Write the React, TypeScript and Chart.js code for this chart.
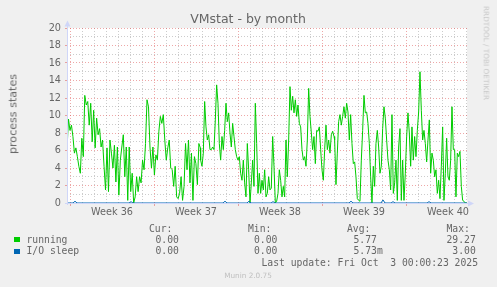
import React, { useEffect, useRef } from 'react';
import { Chart, registerables } from 'chart.js';

Chart.register(...registerables);

// ---------------- data ----------------
const chartTitle = 'VMstat - by month';
const yAxisTitle = 'process states';
const weekLabels = ['Week 36', 'Week 37', 'Week 38', 'Week 39', 'Week 40'];

// running processes (three consecutive stretches of the month)
const runningPart1 = [
  6.1, 9.6, 8.3, 8.9, 7.6, 5.7, 6.3, 5.3, 4.2, 3.4,
  7.4, 5.3, 12.3, 11.2, 11.6, 8.9, 11.4, 7.0, 10.6, 6.3,
  9.7, 7.8, 8.5, 6.4, 7.2, 4.2, 1.5, 6.3, 1.3, 7.2,
  5.7, 4.0, 6.6, 2.4, 6.4, 0.9, 4.9, 6.4, 7.8, 3.0,
  6.4, 0.3, 6.4, 1.3, 3.4, 0.0, 0.7, 3.0, 1.3, 3.0,
  2.3, 4.9, 3.8, 6.8, 11.8, 11.0, 6.4, 4.0, 6.4, 3.2,
  5.5, 4.9, 8.2, 9.9, 9.1, 10.1, 7.2, 4.9, 6.3, 7.2,
  4.0, 3.8, 1.9, 4.2, 0.7, 0.5, 1.1, 3.0, 0.3, 1.9,
  6.8, 3.8, 7.2, 2.3, 5.7, 0.3, 5.3, 4.5, 2.1, 6.8,
  6.3,
];
const runningPart2 = [
  4.9, 4.2, 5.7, 11.6, 8.7, 7.2, 7.8, 6.1, 6.1, 6.4,
  6.1, 9.5, 13.5, 11.4, 6.8, 4.9, 7.6, 6.1, 8.3, 11.4,
  9.3, 10.3, 8.0, 6.4, 9.1, 7.6, 6.1, 5.3, 4.9, 5.3,
  3.4, 2.6, 4.9, 2.3, 0.7, 6.8, 3.8, 0.0, 2.3, 4.9,
  1.9, 11.4, 6.8, 1.1, 3.4, 1.1, 2.6, 1.5, 3.8, 0.7,
  1.1, 3.0, 1.5, 1.7, 7.6, 4.2, 0.0, 0.2, 1.1, 3.8,
  2.6, 0.7, 1.9, 0.7, 7.2, 3.0, 7.2, 13.3, 10.6, 12.2,
  10.3, 11.8, 9.9, 11.2, 9.1, 8.7, 6.1, 4.9, 5.3, 4.2,
  7.2, 13.1, 9.9, 8.0, 6.1, 7.6, 4.5, 8.3, 8.2, 8.7,
  6.1, 3.8, 2.6, 6.1, 8.9, 6.1, 7.2, 5.7, 7.8, 8.2,
  7.6,
];
const runningPart3 = [
  7.2, 2.1, 5.7, 9.3, 10.1, 8.9, 9.9, 11.0, 9.7, 11.4,
  10.4, 7.2, 10.1, 6.8, 4.5, 4.7, 3.0, 0.5, 0.3, 0.2,
  4.9, 8.3, 12.3, 10.3, 10.4, 9.1, 6.8, 3.0, 0.0, 4.2,
  1.9, 6.8, 8.3, 6.4, 3.4, 4.2, 8.5, 11.0, 9.7, 7.2,
  4.9, 3.8, 1.5, 10.1, 1.1, 2.3, 4.9, 0.3, 6.4, 8.5,
  0.3, 4.9, 0.3, 3.4, 7.6, 10.3, 8.0, 4.2, 8.7, 4.9,
  7.6, 5.3, 8.3, 10.4, 15.0, 10.6, 7.2, 8.3, 6.8, 4.7,
  7.2, 9.5, 3.4, 5.7, 4.9, 3.0, 3.8, 1.1, 2.6, 0.5,
  4.2, 8.7, 0.3, 3.4, 7.4, 3.0, 2.6, 4.9, 11.0, 6.1,
  6.1, 0.7, 5.7, 5.3, 5.9, 1.9, 0.3, 0.2, 0.0, 0.0,
];
// hours (from the left edge of the 800-hour window) spanned by each stretch
const runningPartHours = [
  [0, 266.7],
  [267.3, 534],
  [535.3, 799.3],
];

// I/O sleep, one value every 4 hours
const ioSleepStepHours = 4;
const ioSleepValues = [
  0, 0, 0, 0, 0.2, 0, 0, 0, 0, 0, 0, 0, 0, 0, 0, 0, 0, 0, 0, 0,
  0, 0, 0, 0, 0, 0, 0, 0, 0, 0, 0, 0, 0.15, 0, 0, 0, 0, 0, 0, 0,
  0, 0, 0, 0, 0, 0, 0, 0, 0, 0, 0, 0, 0, 0, 0, 0, 0, 0, 0, 0,
  0, 0, 0, 0, 0, 0, 0, 0, 0, 0, 0, 0, 0, 0, 0, 0, 0, 0, 0, 0.2,
  0, 0, 0, 0, 0, 0, 0, 0, 0, 0, 0, 0.2, 0, 0, 0, 0, 0, 0, 0, 0,
  0, 0, 0, 0.15, 0, 0, 0, 0, 0, 0, 0, 0, 0, 0, 0, 0, 0, 0, 0, 0,
  0, 0, 0, 0, 0, 0, 0, 0, 0, 0, 0, 0, 0, 0, 0, 0, 0, 0, 0, 0,
  0, 0, 0.2, 0, 0, 0, 0, 0, 0, 0, 0, 0, 0, 0, 0, 0, 0, 0, 0.35, 0,
  0, 0, 0, 0.15, 0, 0, 0, 0, 0, 0, 0, 0, 0, 0, 0, 0, 0, 0, 0, 0,
  0, 0.15, 0, 0, 0, 0, 0, 0, 0, 0, 0, 0, 0, 0, 0, 0, 0, 0, 0, 0,
  0,
];

const seriesNames = ['running', 'I/O sleep'];
const seriesColors = ['#00CC00', '#0066B3'];
const curValues = ['0.00', '0.00'];
const minValues = ['0.00', '0.00'];
const avgValues = ['5.77', '5.73m'];
const maxValues = ['29.27', '3.00'];
const lastUpdate = 'Last update: Fri Oct  3 00:00:23 2025';
const footer = 'Munin 2.0.75';
const watermark = 'RRDTOOL / TOBI OETIKER';

// time axis: 800 hours shown, weeks begin 6 h after the left edge
const WINDOW_HOURS = 800;
const FIRST_WEEK_HOUR = 6;
const DAY = 24;
const WEEK = 168;
const Y_MIN = 0;
const Y_MAX = 20;

// ---------------- style ----------------
const W = 497;
const H = 287;
const FONT_COLOR = '#666666';
const AXIS_COLOR = '#CFD6F8';
const GRID_MINOR = 'rgba(143,143,143,0.45)';
const GRID_MAJOR = 'rgba(222,79,79,0.5)';
const SANS = "'DejaVu Sans', 'Noto Sans', sans-serif";
const MONO = "'DejaVu Sans Mono', 'Liberation Mono', monospace";
const LEGEND_SIZE = 9.72;
const CHAR_W = LEGEND_SIZE * 0.602;

const runningPoints = [runningPart1, runningPart2, runningPart3].flatMap((part, p) => {
  const [from, to] = runningPartHours[p];
  return part.map((v, i) => ({ x: from + (i * (to - from)) / (part.length - 1), y: v }));
});
const ioPoints = ioSleepValues.map((v, i) => ({ x: i * ioSleepStepHours, y: v }));

const xTickHours: number[] = [];
for (let h = FIRST_WEEK_HOUR; h <= WINDOW_HOURS; h += DAY / 2) xTickHours.push(h);

const xKind = (v: number) => {
  const d = v - FIRST_WEEK_HOUR;
  if (d % WEEK === 0) return 'major';
  if (d % DAY === 0) return 'minor';
  return 'none';
};

const plotDecor = {
  id: 'plotDecor',
  beforeDraw(chart: any) {
    const { ctx, chartArea } = chart;
    ctx.save();
    ctx.fillStyle = '#FFFFFF';
    ctx.fillRect(chartArea.left, chartArea.top, chartArea.right - chartArea.left, chartArea.bottom - chartArea.top);
    ctx.restore();
  },
  afterDatasetsDraw(chart: any) {
    const { ctx, chartArea } = chart;
    const { left, right, top, bottom } = chartArea;
    ctx.save();
    ctx.strokeStyle = AXIS_COLOR;
    ctx.fillStyle = AXIS_COLOR;
    ctx.lineWidth = 1;
    ctx.beginPath();
    ctx.moveTo(left - 2, bottom + 0.5);
    ctx.lineTo(right + 2, bottom + 0.5);
    ctx.moveTo(left + 0.5, bottom + 2);
    ctx.lineTo(left + 0.5, top - 3);
    ctx.stroke();
    ctx.beginPath();
    ctx.moveTo(right + 7, bottom + 0.5);
    ctx.lineTo(right + 1, bottom - 2.5);
    ctx.lineTo(right + 1, bottom + 3.5);
    ctx.closePath();
    ctx.fill();
    ctx.beginPath();
    ctx.moveTo(left + 0.5, top - 7.5);
    ctx.lineTo(left - 2.5, top - 1.5);
    ctx.lineTo(left + 3.5, top - 1.5);
    ctx.closePath();
    ctx.fill();
    ctx.restore();
  },
};

type LabelProps = {
  x: number;
  base: number;
  size: number;
  mono?: boolean;
  color?: string;
  center?: boolean;
  children: React.ReactNode;
};

function Label({ x, base, size, mono, color = FONT_COLOR, center, children }: LabelProps) {
  const style: React.CSSProperties = {
    position: 'absolute',
    left: x,
    top: base - 0.846 * size,
    fontSize: size,
    lineHeight: `${size}px`,
    fontFamily: mono ? MONO : SANS,
    color,
    whiteSpace: 'pre',
  };
  if (center) style.transform = 'translateX(-50%)';
  return <div style={style}>{children}</div>;
}

export default function App() {
  const ref = useRef<HTMLCanvasElement>(null);

  useEffect(() => {
    if (!ref.current) return;
    const tickFont = { family: SANS, size: 9.7 };
    const chart = new Chart(ref.current, {
      type: 'line',
      data: {
        datasets: [
          {
            label: seriesNames[1],
            data: ioPoints,
            borderColor: seriesColors[1],
            borderWidth: 1,
            pointRadius: 0,
            tension: 0,
            order: 0,
          },
          {
            label: seriesNames[0],
            data: runningPoints,
            borderColor: seriesColors[0],
            borderWidth: 1,
            pointRadius: 0,
            tension: 0,
            order: 1,
          },
        ],
      },
      options: {
        animation: false,
        responsive: false,
        devicePixelRatio: 1,
        parsing: false,
        normalized: true,
        events: [],
        layout: { padding: { left: 0, top: 28, right: 30, bottom: 60 } },
        plugins: { legend: { display: false }, tooltip: { enabled: false }, title: { display: false } },
        scales: {
          x: {
            type: 'linear',
            min: 0,
            max: WINDOW_HOURS,
            afterFit: (s: any) => {
              s.height = 24;
            },
            afterBuildTicks: (s: any) => {
              s.ticks = xTickHours.map((v) => ({ value: v }));
            },
            ticks: {
              autoSkip: false,
              maxRotation: 0,
              minRotation: 0,
              padding: 1,
              color: FONT_COLOR,
              font: tickFont,
              callback: (v: any) => {
                const d = Number(v) - FIRST_WEEK_HOUR;
                if (d % WEEK === WEEK / 2) return weekLabels[Math.floor(d / WEEK)] ?? '';
                return '';
              },
            },
            grid: {
              lineWidth: 1,
              drawTicks: true,
              tickLength: 3,
              color: (c: any) => {
                const k = c.tick ? xKind(c.tick.value) : 'none';
                return k === 'major' ? GRID_MAJOR : k === 'minor' ? GRID_MINOR : 'rgba(0,0,0,0)';
              },
              tickColor: (c: any) => {
                const k = c.tick ? xKind(c.tick.value) : 'none';
                return k === 'major' ? GRID_MAJOR : 'rgba(0,0,0,0)';
              },
            },
            border: { display: false, dash: [1, 2] },
          },
          y: {
            type: 'linear',
            min: Y_MIN,
            max: Y_MAX,
            afterFit: (s: any) => {
              s.width = 67;
            },
            ticks: {
              stepSize: 1,
              autoSkip: false,
              padding: 4,
              color: FONT_COLOR,
              font: tickFont,
              callback: (v: any) => (Number(v) % 2 === 0 ? String(v) : ''),
            },
            grid: {
              lineWidth: 1,
              drawTicks: true,
              tickLength: 2,
              color: (c: any) => (c.tick && c.tick.value % 2 === 0 ? GRID_MAJOR : GRID_MINOR),
              tickColor: (c: any) => (c.tick && c.tick.value % 2 === 0 ? GRID_MAJOR : 'rgba(0,0,0,0)'),
            },
            border: { display: false, dash: [1, 2] },
          },
        },
      },
      plugins: [plotDecor],
    } as any);
    return () => chart.destroy();
  }, []);

  const rowBases = [243, 254.5];
  const maxRight = 446.5 + 5 * CHAR_W;
  return (
    <div
      style={{
        position: 'absolute',
        left: 0,
        top: 0,
        width: W,
        height: H,
        background: '#F0F0F0',
        overflow: 'hidden',
      }}
    >
      <canvas ref={ref} width={W} height={H} style={{ position: 'absolute', left: 0, top: 0, width: W, height: H }} />
      <Label x={248} base={24} size={12.5} center>
        {chartTitle}
      </Label>
      <div
        style={{
          position: 'absolute',
          left: 12.7,
          top: 113.5,
          transform: 'translate(-50%, -50%) rotate(-90deg)',
          fontSize: 11.1,
          lineHeight: '11.1px',
          fontFamily: SANS,
          color: FONT_COLOR,
          whiteSpace: 'nowrap',
        }}
      >
        {yAxisTitle}
      </div>
      <div
        style={{
          position: 'absolute',
          left: 486,
          top: 52.5,
          transform: 'translate(-50%, -50%) rotate(90deg)',
          fontSize: 7.3,
          lineHeight: '7.3px',
          fontFamily: SANS,
          color: '#C7C7C7',
          whiteSpace: 'nowrap',
        }}
      >
        {watermark}
      </div>

      <Label x={149} base={232} size={LEGEND_SIZE} mono>Cur:</Label>
      <Label x={248} base={232} size={LEGEND_SIZE} mono>Min:</Label>
      <Label x={347} base={232} size={LEGEND_SIZE} mono>Avg:</Label>
      <Label x={446.5} base={232} size={LEGEND_SIZE} mono>Max:</Label>

      {seriesNames.map((name, i) => (
        <React.Fragment key={name}>
          <div
            style={{
              position: 'absolute',
              left: 14,
              top: rowBases[i] - 6,
              width: 6,
              height: 5,
              background: seriesColors[i],
            }}
          />
          <Label x={26.5} base={rowBases[i]} size={LEGEND_SIZE} mono>{name}</Label>
          <Label x={155.5} base={rowBases[i]} size={LEGEND_SIZE} mono>{curValues[i]}</Label>
          <Label x={254} base={rowBases[i]} size={LEGEND_SIZE} mono>{minValues[i]}</Label>
          <Label x={353.5} base={rowBases[i]} size={LEGEND_SIZE} mono>{avgValues[i]}</Label>
          <Label x={maxRight - maxValues[i].length * CHAR_W} base={rowBases[i]} size={LEGEND_SIZE} mono>
            {maxValues[i]}
          </Label>
        </React.Fragment>
      ))}
      <Label x={261.5} base={266.5} size={LEGEND_SIZE} mono>{lastUpdate}</Label>
      <Label x={248} base={278} size={7.3} color="#C0C0C0" center>{footer}</Label>
    </div>
  );
}
